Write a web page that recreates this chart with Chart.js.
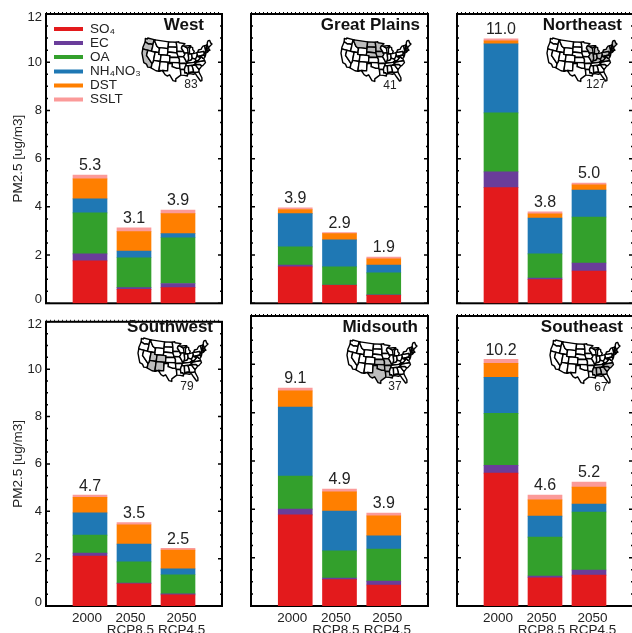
<!DOCTYPE html>
<html>
<head>
<meta charset="utf-8">
<script src="https://cdn.jsdelivr.net/npm/chart.js@4"></script>
<style>
html, body { margin: 0; padding: 0; background: #fff; overflow: hidden; width: 632px; height: 633px; }
.panel { position: absolute; }
</style>
</head>
<body>
<script>
// regions, left to right then top to bottom
const regions = ['West', 'Great Plains', 'Northeast', 'Southwest', 'Midsouth', 'Southeast'];
const scenarios = ['2000', '2050 RCP8.5', '2050 RCP4.5'];
const speciesNames = ['SO\u2084', 'EC', 'OA', 'NH\u2084NO\u2083', 'DST', 'SSLT'];
const speciesColors = ['#e31a1c', '#6a3d9a', '#33a02c', '#1f78b4', '#ff7f00', '#fb9a99'];

// one row per region, one value per scenario
const so4 = [[1.76, 0.58, 0.65], [1.51, 0.75, 0.33], [4.80, 0.98, 1.34], [2.11, 0.94, 0.47], [3.77, 1.09, 0.87], [5.50, 1.17, 1.28]];
const ec = [[0.29, 0.07, 0.17], [0.08, 0.01, 0.02], [0.65, 0.07, 0.33], [0.12, 0.03, 0.04], [0.24, 0.07, 0.16], [0.32, 0.07, 0.21]];
const oa = [[1.70, 1.24, 1.90], [0.75, 0.75, 0.91], [2.45, 1.00, 1.91], [0.76, 0.89, 0.81], [1.37, 1.12, 1.33], [2.15, 1.61, 2.40]];
const nh4no3 = [[0.58, 0.28, 0.17], [1.38, 1.12, 0.33], [2.86, 1.49, 1.12], [0.94, 0.75, 0.25], [2.85, 1.65, 0.54], [1.49, 0.87, 0.33]];
const dst = [[0.83, 0.80, 0.83], [0.17, 0.26, 0.25], [0.13, 0.17, 0.21], [0.66, 0.82, 0.79], [0.67, 0.79, 0.83], [0.58, 0.67, 0.70]];
const sslt = [[0.16, 0.16, 0.15], [0.07, 0.04, 0.08], [0.08, 0.08, 0.08], [0.09, 0.09, 0.08], [0.12, 0.12, 0.12], [0.17, 0.20, 0.21]];
const totals = [['5.3', '3.1', '3.9'], ['3.9', '2.9', '1.9'], ['11.0', '3.8', '5.0'], ['4.7', '3.5', '2.5'], ['9.1', '4.9', '3.9'], ['10.2', '4.6', '5.2']];
const siteCounts = ['83', '41', '127', '79', '37', '67'];
const series = [so4, ec, oa, nh4no3, dst, sslt];

const yTickLabels = ['0', '2', '4', '6', '8', '10', '12'];
const xTickLabels = [['2000'], ['2050', 'RCP8.5'], ['2050', 'RCP4.5']];

// page layout
const colLeft = [46, 251, 457], colRight = [222, 428, 633];
const rowTop = [14, 316], rowBottom = [303.3, 606];
const canvasLeft = [0, 232, 440], canvasWidth = [226, 204, 195];
const canvasTop = [0, 310], canvasHeight = [322, 323];
const titleRight = [204, 420, 622, 213, 418, 623];
const mapLeft = [142, 341, 547, 138, 347, 550];
const mapTop = [38, 38, 38, 338, 340, 340];
const countX = [191, 390, 596, 187, 395, 601];
const countY = [85, 86, 85, 387, 387, 388];
const FONT = '"Liberation Sans", Arial, sans-serif';
const INK = '#222';

// state outlines, [west longitude, latitude] pairs, only for the small inset map
const states = {
    WA: [124.7,48.4,123,48.3,122.8,49,117,49,117,46,119,46,121,45.7,123,46.2,124,46.3],
    OR: [124,46.3,123,46.2,121,45.7,119,46,117,46,116.9,44.5,117,42,124.2,42,124.5,43],
    CA: [124.2,42,120,42,120,39,114.6,35,114.7,32.7,117.1,32.5,118.5,34,120.6,34.5,122,36.7,123.8,39.5],
    NV: [120,42,114,42,114,36.2,114.6,35,120,39],
    ID: [117,49,116,49,116,48,114.5,46.6,113.5,45.5,111,44.5,111,42,117,42,116.9,44.5,117,46],
    MT: [116,49,104,49,104,45,111,45,111,44.5,113.5,45.5,114.5,46.6,116,48],
    WY: [111,45,104,45,104,41,111,41],
    UT: [114,42,111,42,111,41,109,41,109,37,114,37],
    CO: [109,41,102,41,102,37,109,37],
    AZ: [114.6,35,114,36.2,114,37,109,37,109,31.3,111,31.3,114.8,32.5,114.7,32.7],
    NM: [109,37,103,37,103,32,106.6,32,106.5,31.8,108.2,31.8,108.2,31.3,109,31.3],
    ND: [104,49,97.2,49,96.6,46,104,46],
    SD: [104,46,96.6,46,96.5,42.6,98,42.8,104,43],
    NE: [104,43,98,42.8,96.5,42.6,95.3,40,102,40,102,41,104,41],
    KS: [102,40,95.3,40,94.6,39,94.6,37,102,37],
    OK: [103,37,94.6,37,94.4,33.7,97,33.8,100,34.6,100,36.5,103,36.5],
    TX: [106.6,32,103,32,103,36.5,100,36.5,100,34.6,97,33.8,94.4,33.7,94,33,93.8,29.7,95,29,97.2,27.5,97.2,26,99,26.5,101.4,29.8,103,29,104.5,29.7,106.5,31.8],
    MN: [97.2,49,95,49.3,94.7,48.7,89.6,48,92,46.7,92.8,45.5,91.2,43.5,96.5,43.5,96.6,46],
    IA: [96.5,43.5,91.2,43.5,90.2,41.8,91.4,40.4,95.7,40.6,96.5,42.6],
    MO: [95.7,40.6,91.4,40.4,90.2,38.8,89.2,37,89.7,36,90.4,36,90.4,36.5,94.6,36.5,94.6,39,95.3,40],
    AR: [94.6,36.5,90.1,36.5,89.7,36,91.2,33,94,33,94.4,33.7],
    LA: [94,33,91.2,33,91,31,89.7,31,89.3,30.2,89.4,29,91.5,29.5,93.8,29.7],
    WI: [92,46.7,90.4,46.6,87.8,45.3,87.6,42.5,90.6,42.5,91.2,43.5,92.8,45.5],
    IL: [90.6,42.5,87.6,42.5,87.5,39.3,88,37.8,89.2,37,90.2,38.8,91.4,40.4,90.2,41.8],
    MI: [86.5,41.8,84.8,41.7,83.4,41.7,82.5,43,83.5,44,83.4,45.2,84.8,45.8,86.2,44.7],
    UP: [90.4,46.6,87.8,45.3,85,46,84.8,46.5,87,46.6],
    IN: [87.5,41.7,84.8,41.7,84.8,39.1,86,38,88,37.8,87.5,39.3],
    OH: [84.8,41.7,83.4,41.7,80.5,42,80.5,40.6,81.7,39,82.6,38.4,84.8,39.1],
    KY: [89.2,37,88,37.8,86,38,84.8,39.1,82.6,38.4,82,37.5,83.7,36.6,89.5,36.5],
    TN: [90.1,35,89.7,36,89.5,36.5,83.7,36.6,81.7,36.6,84.3,35],
    MS: [91.2,33,90.3,35,88.2,35,88.4,30.3,89.3,30.2,89.7,31,91,31],
    AL: [88.2,35,85.6,35,85,32.5,85,31,87.6,31,87.5,30.3,88.4,30.3],
    GA: [85.6,35,83.1,35,81,32,81.4,30.7,82.2,30.6,84.9,30.7,85,31,85,32.5],
    FL: [87.6,31,85,31,84.9,30.7,82.2,30.6,81.4,30.7,80,27,80.3,25.3,81.2,25.2,82.7,27.8,83.9,30,85.3,29.7,87.5,30.3],
    SC: [83.1,35,82.4,35.2,81,35.1,79.7,34.8,78.6,33.9,81,32],
    NC: [84.3,35,81.7,36.6,75.9,36.6,75.6,35.3,77.9,33.9,78.6,33.9,79.7,34.8,81,35.1,82.4,35.2,83.1,35],
    VA: [83.7,36.6,75.9,36.6,76.3,38,77,38.3,77.7,39.3,80.3,37.5,81.7,37.2,82,37.5],
    WV: [82.6,38.4,81.7,39,80.5,40.6,80.5,39.7,79.5,39.7,79.5,39.2,77.7,39.3,80.3,37.5,81.7,37.2,82,37.5],
    PA: [80.5,42,79.8,42,75.3,42,74.7,41.4,75.4,39.8,80.5,39.7],
    NY: [79.8,42.3,79,43.3,76.5,43.5,76,44.2,74.7,45,73.3,45,73.3,43,73.5,41.3,72,41,74,40.6,74.7,41.4,75.3,42,79.8,42],
    MD: [79.5,39.7,75.4,39.8,75.1,38.5,75.9,38,76.3,38,77,38.3,77.7,39.3,79.5,39.2],
    NJ: [74.7,41.4,74,40.6,74.1,39.7,74.9,38.9,75.4,39.8],
    VT: [73.3,45,71.5,45,72.5,42.7,73.3,42.7],
    NH: [71.5,45,71,45.3,70.7,43,72.5,42.7],
    ME: [71,45.3,70.2,46.7,69.2,47.4,68,47.3,67.8,45.7,67,44.8,70,43.7,70.7,43],
    MA: [73.5,42.05,73.3,42.7,70.7,42.7,70,41.7,71.4,41.5],
    CT: [73.5,42.05,71.4,42,71.5,41.4,73.6,41]
};
const regionStates = [
    ['WA', 'OR', 'CA'],
    ['MT', 'ND', 'SD', 'MN', 'NE', 'IA'],
    ['WI', 'IL', 'IN', 'MI', 'UP', 'OH', 'KY', 'PA', 'NY', 'WV', 'VA', 'MD', 'NJ', 'VT', 'NH', 'ME', 'MA', 'CT'],
    ['AZ', 'NM', 'UT', 'CO'],
    ['KS', 'MO', 'OK', 'TX', 'AR', 'LA'],
    ['TN', 'MS', 'AL', 'GA', 'SC', 'NC']
];

// albers conic, good enough for a 70 px map
function albers(lonW, lat) {
    const rad = Math.PI / 180;
    const p1 = 29.5 * rad, p2 = 45.5 * rad, p0 = 37.5 * rad;
    const n = (Math.sin(p1) + Math.sin(p2)) / 2;
    const c = Math.cos(p1) * Math.cos(p1) + 2 * n * Math.sin(p1);
    const r = Math.sqrt(c - 2 * n * Math.sin(lat * rad)) / n;
    const r0 = Math.sqrt(c - 2 * n * Math.sin(p0)) / n;
    const t = n * (96 - lonW) * rad;
    return [r * Math.sin(t), -(r0 - r * Math.cos(t))];
}

const projected = {};
let minX = 9, maxX = -9, minY = 9, maxY = -9;
Object.keys(states).forEach(function (k) {
    const pts = [];
    for (let i = 0; i < states[k].length; i += 2) {
        const p = albers(states[k][i], states[k][i + 1]);
        pts.push(p);
        minX = Math.min(minX, p[0]); maxX = Math.max(maxX, p[0]);
        minY = Math.min(minY, p[1]); maxY = Math.max(maxY, p[1]);
    }
    projected[k] = pts;
});

function drawMap(ctx, x0, y0, shaded) {
    const s = 70 / (maxX - minX);
    Object.keys(projected).forEach(function (k) {
        ctx.beginPath();
        projected[k].forEach(function (p, i) {
            const px = x0 + (p[0] - minX) * s;
            const py = y0 + (p[1] - minY) * s;
            if (i === 0) ctx.moveTo(px, py); else ctx.lineTo(px, py);
        });
        ctx.closePath();
        ctx.fillStyle = shaded.indexOf(k) >= 0 ? '#bdbdbd' : '#fff';
        ctx.fill();
        ctx.lineWidth = 1.4;
        ctx.lineJoin = 'round';
        ctx.strokeStyle = '#000';
        ctx.stroke();
    });
}

// frame with inward ticks, goes under the bars
const framePlugin = {
    id: 'frame',
    beforeDatasetsDraw(chart) {
        const a = chart.chartArea, y = chart.scales.y, ctx = chart.ctx;
        ctx.save();
        ctx.strokeStyle = '#000';
        ctx.lineWidth = 2;
        ctx.strokeRect(a.left, a.top, a.right - a.left, a.bottom - a.top);
        ctx.lineWidth = 1.5;
        for (let v = 0; v <= 12; v += 0.5) {
            const len = v % 2 === 0 ? 4 : 2;
            const py = y.getPixelForValue(v);
            ctx.beginPath();
            ctx.moveTo(a.left, py); ctx.lineTo(a.left + len, py);
            ctx.moveTo(a.right, py); ctx.lineTo(a.right - len, py);
            ctx.stroke();
        }
        ctx.lineWidth = 1;
        ctx.setLineDash([1, 3]);
        ctx.beginPath();
        ctx.moveTo(a.left, a.top - 1.5); ctx.lineTo(a.right, a.top - 1.5);
        ctx.stroke();
        ctx.restore();
    }
};

// region title, site map and count, totals over the stacks, legend for the first panel
const notesPlugin = {
    id: 'notes',
    afterDatasetsDraw(chart, args, opts) {
        const ctx = chart.ctx, xs = chart.scales.x, ys = chart.scales.y;
        const r = opts.region;
        const col = r % 3, row = Math.floor(r / 3);
        const ox = canvasLeft[col], oy = canvasTop[row];
        ctx.save();
        ctx.textBaseline = 'middle';

        ctx.fillStyle = '#111';
        ctx.textAlign = 'right';
        ctx.font = 'bold 17px ' + FONT;
        ctx.fillText(regions[r], titleRight[r] - ox, (row === 0 ? 25 : 327) - oy);

        drawMap(ctx, mapLeft[r] - ox, mapTop[r] - oy, regionStates[r]);

        ctx.fillStyle = INK;
        ctx.textAlign = 'center';
        ctx.font = '12px ' + FONT;
        ctx.fillText(siteCounts[r], countX[r] - ox, countY[r] - oy);

        ctx.font = '16px ' + FONT;
        scenarios.forEach(function (s, i) {
            let sum = 0;
            series.forEach(function (sp) { sum += sp[r][i]; });
            ctx.fillText(totals[r][i], xs.getPixelForValue(i + 1), ys.getPixelForValue(sum) - 9);
        });

        if (r === 0) {
            ctx.textAlign = 'left';
            ctx.font = '13.5px ' + FONT;
            chart.data.datasets.forEach(function (d, i) {
                const ly = [29, 43, 57, 71.5, 85.5, 99.5][i];
                ctx.fillStyle = d.backgroundColor;
                ctx.fillRect(54, ly - 2, 29, 4);
                ctx.fillStyle = INK;
                ctx.fillText(d.label, 90, ly);
            });
        }
        ctx.restore();
    }
};

function makePanel(r) {
    const col = r % 3, row = Math.floor(r / 3);
    const canvas = document.createElement('canvas');
    canvas.className = 'panel';
    canvas.style.left = canvasLeft[col] + 'px';
    canvas.style.top = canvasTop[row] + 'px';
    canvas.width = canvasWidth[col];
    canvas.height = canvasHeight[row];
    canvas.style.width = canvasWidth[col] + 'px';
    canvas.style.height = canvasHeight[row] + 'px';
    document.body.appendChild(canvas);

    const top = rowTop[row] - canvasTop[row];
    const bottom = canvasHeight[row] - (rowBottom[row] - canvasTop[row]);
    const left = colLeft[col] - canvasLeft[col];
    const right = canvasWidth[col] - (colRight[col] - canvasLeft[col]);
    const showX = row === 1, showY = col === 0;

    new Chart(canvas, {
        type: 'bar',
        plugins: [framePlugin, notesPlugin],
        data: {
            labels: [''].concat(scenarios, ['']),
            datasets: speciesNames.map(function (name, i) {
                return {
                    label: name,
                    data: [null].concat(series[i][r], [null]),
                    backgroundColor: speciesColors[i],
                    borderWidth: 0,
                    barThickness: 34
                };
            })
        },
        options: {
            responsive: false,
            animation: false,
            layout: { padding: { top: top, left: 0, right: right, bottom: 0 } },
            plugins: {
                legend: { display: false },
                tooltip: { enabled: false },
                notes: { region: r }
            },
            scales: {
                x: { stacked: true, offset: false, display: false, grid: { display: false } },
                y: { stacked: true, min: 0, max: 12, display: false },
                xLabels: {
                    type: 'linear',
                    position: 'bottom',
                    display: showX,
                    offset: false,
                    min: 0,
                    max: 4,
                    grid: { display: false, drawTicks: false },
                    border: { display: false },
                    afterBuildTicks: function (s) {
                        s.ticks = [0.93, 1.92, 3.08].map(function (v) { return { value: v }; });
                    },
                    afterFit: function (s) { s.height = bottom; },
                    ticks: {
                        autoSkip: false,
                        maxRotation: 0,
                        padding: 6,
                        color: INK,
                        font: { family: FONT, size: 13.5, lineHeight: 0.88 },
                        callback: function (v, i) { return xTickLabels[i]; }
                    }
                },
                yLabels: {
                    type: 'linear',
                    position: 'left',
                    display: showY,
                    min: 0,
                    max: 12,
                    grid: { display: false, drawTicks: false },
                    border: { display: false },
                    afterBuildTicks: function (s) {
                        s.ticks = [0.15, 2, 4, 6, 8, 10, 11.87].map(function (v) { return { value: v }; });
                    },
                    afterFit: function (s) { s.width = left; },
                    title: {
                        display: true,
                        text: 'PM2.5 [ug/m3]',
                        color: INK,
                        font: { family: FONT, size: 13.5 },
                        padding: { top: 10, bottom: 0 }
                    },
                    ticks: {
                        autoSkip: false,
                        padding: 4,
                        color: INK,
                        font: { family: FONT, size: 13 },
                        callback: function (v, i) { return yTickLabels[i]; }
                    }
                }
            }
        }
    });
}

regions.forEach(function (name, r) { makePanel(r); });
</script>
</body>
</html>
